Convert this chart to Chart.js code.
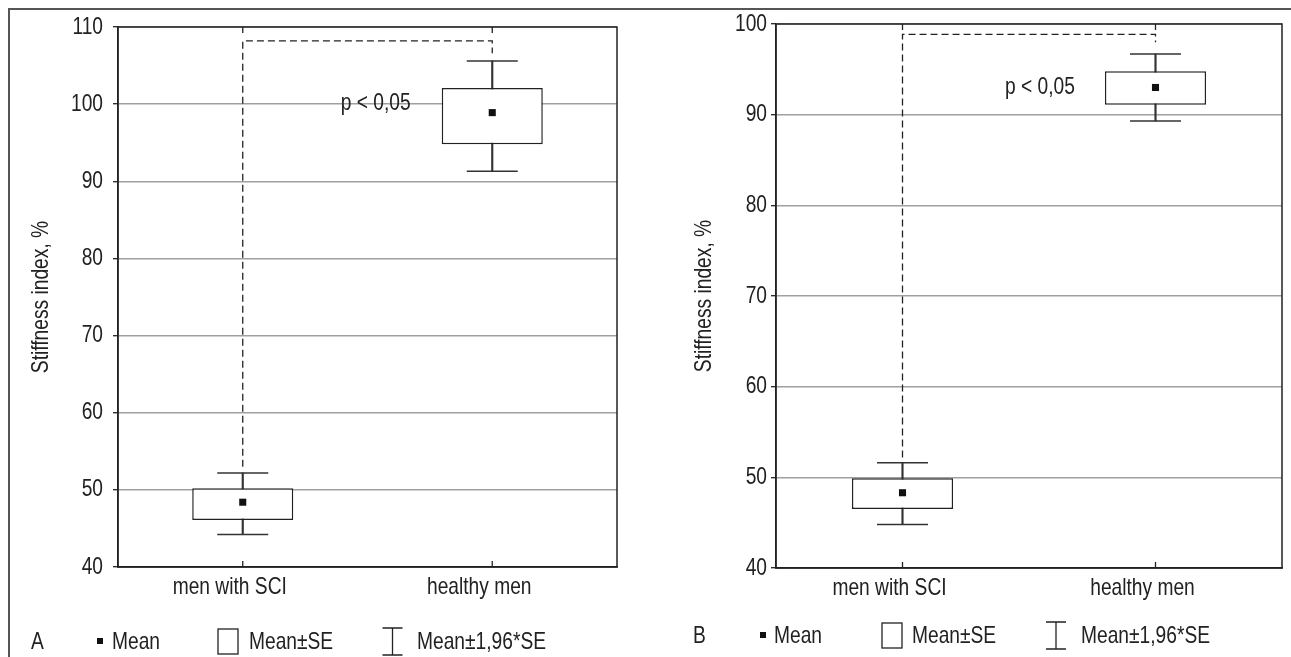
<!DOCTYPE html>
<html><head><meta charset="utf-8">
<script src="https://cdn.jsdelivr.net/npm/chart.js@4.4.1/dist/chart.umd.min.js"></script>
<style>
html,body{margin:0;padding:0;background:#fff;width:1291px;height:657px;overflow:hidden}
#frame{position:absolute;left:8px;top:8px;width:1283px;height:649px;border-top:2px solid #555;border-left:2px solid #555;box-sizing:border-box}
#wa{position:absolute;left:0;top:0;width:640px;height:657px}
#wb{position:absolute;left:640px;top:0;width:651px;height:657px}
canvas{display:block}
</style></head><body>
<div id="frame"></div>
<div id="wa"><canvas id="ca" width="640" height="657"></canvas></div>
<div id="wb"><canvas id="cb" width="651" height="657"></canvas></div>
<script>
const FONT = "'Liberation Sans', Arial, sans-serif";
const FS = 24;
const TXT = '#222';
const NARROW = 0.8;   // horizontal condensing of text (Arial Narrow look)

const categories = ['men with SCI', 'healthy men'];

// Panel A
const yTicksA = [40, 50, 60, 70, 80, 90, 100, 110];
const meanA   = [48.4, 98.9];
const seLowA  = [46.1, 94.8];
const seHighA = [50.2, 102.1];
const ciLowA  = [44.2, 91.3];
const ciHighA = [52.2, 105.6];
const bracketA = [53.0, 108.2, 106.6];   // SCI end, top, healthy end

// Panel B
const yTicksB = [40, 50, 60, 70, 80, 90, 100];
const meanB   = [48.3, 93.0];
const seLowB  = [46.5, 91.1];
const seHighB = [49.9, 94.8];
const ciLowB  = [44.8, 89.3];
const ciHighB = [51.6, 96.7];
const bracketB = [52.2, 98.85, 98.0];

const pText = 'p < 0,05';
const yTitle = 'Stiffness index, %';
const legendLabels = ['Mean', 'Mean±SE', 'Mean±1,96*SE'];
const panelLetters = ['A', 'B'];

function condense(canvas, k) {
  const ctx = canvas.getContext('2d');
  const ft = ctx.fillText.bind(ctx), mt = ctx.measureText.bind(ctx);
  ctx.fillText = function (t, x, y) {
    ctx.save(); ctx.translate(x, y); ctx.scale(k, 1); ft(t, 0, 0); ctx.restore();
  };
  ctx.measureText = function (t) {
    const m = mt(t);
    return { width: m.width * k,
      actualBoundingBoxAscent: m.actualBoundingBoxAscent,
      actualBoundingBoxDescent: m.actualBoundingBoxDescent,
      actualBoundingBoxLeft: m.actualBoundingBoxLeft * k,
      actualBoundingBoxRight: m.actualBoundingBoxRight * k };
  };
}

const decor = {
  id: 'decor',
  afterDatasetsDraw(chart, args, o) {
    const ctx = chart.ctx;
    const ys = chart.scales.y;
    const boxEl = chart.getDatasetMeta(1).data[1];
    const xr = boxEl.x - boxEl.width / 2 - o.pGap;
    ctx.save();
    ctx.font = `${FS}px ${FONT}`;
    ctx.fillStyle = TXT;
    ctx.textAlign = 'right';
    ctx.textBaseline = 'middle';
    ctx.fillText(pText, xr, ys.getPixelForValue(o.pValue));
    ctx.restore();
  },
  afterDraw(chart, args, o) {
    const ctx = chart.ctx;
    const a = chart.chartArea;
    const xs = chart.scales.x;
    ctx.save();
    ctx.strokeStyle = '#222';
    ctx.lineWidth = 1.5;
    ctx.strokeRect(a.left, a.top, a.right - a.left, a.bottom - a.top);
    ctx.lineWidth = 1.3;
    for (let i = 0; i < categories.length; i++) {
      const x = xs.getPixelForTick(i);
      ctx.beginPath();
      ctx.moveTo(x, a.bottom); ctx.lineTo(x, a.bottom - 6);
      ctx.moveTo(x, a.top); ctx.lineTo(x, a.top + 6);
      ctx.stroke();
    }
    // legend
    const L = o.legend;
    const by = L.baseline;
    ctx.font = `${FS}px ${FONT}`;
    ctx.fillStyle = TXT;
    ctx.textAlign = 'left';
    ctx.textBaseline = 'alphabetic';
    ctx.fillText(L.letter, L.letterX, by);
    ctx.fillStyle = '#111';
    ctx.fillRect(L.sqX - 3, by - 11, 6, 6);
    ctx.fillStyle = TXT;
    ctx.fillText(legendLabels[0], L.t1, by);
    ctx.strokeStyle = '#222';
    ctx.lineWidth = 1.3;
    ctx.strokeRect(L.boxX, by - 20, 20, 25);
    ctx.fillText(legendLabels[1], L.t2, by);
    ctx.beginPath();
    const ix = L.ibX;
    ctx.moveTo(ix - 10, by - 21); ctx.lineTo(ix + 10, by - 21);
    ctx.moveTo(ix, by - 21); ctx.lineTo(ix, by + 6);
    ctx.moveTo(ix - 10, by + 6); ctx.lineTo(ix + 10, by + 6);
    ctx.stroke();
    ctx.fillText(legendLabels[2], L.t3, by);
    ctx.restore();
  }
};

function makeChart(id, d) {
  const canvas = document.getElementById(id);
  condense(canvas, NARROW);
  const pairs = (lo, hi) => lo.map((v, i) => [v, hi[i]]);
  const br = d.bracket;
  return new Chart(canvas, {
    type: 'bar',
    data: {
      labels: categories,
      datasets: [
        { type: 'bar', data: pairs(d.ciLow, d.ciHigh), backgroundColor: '#333', barThickness: 1.5,
          grouped: false, order: 6, borderWidth: 0 },
        { type: 'bar', data: pairs(d.seLow, d.seHigh), backgroundColor: '#fff', borderColor: '#222',
          borderWidth: 1.5, borderSkipped: false, grouped: false, order: 5,
          categoryPercentage: 1, barPercentage: d.boxPct },
        { type: 'line', data: d.ciHigh, showLine: false, pointStyle: 'line', pointRadius: 25.5,
          pointBorderColor: '#333', pointBorderWidth: 1.5, order: 4 },
        { type: 'line', data: d.ciLow, showLine: false, pointStyle: 'line', pointRadius: 25.5,
          pointBorderColor: '#333', pointBorderWidth: 1.5, order: 3 },
        { type: 'line', data: d.mean, showLine: false, pointStyle: 'rect', pointRadius: 5,
          pointBackgroundColor: '#111', pointBorderWidth: 0, order: 2 },
        { type: 'line', data: [
            { x: categories[0], y: br[0] }, { x: categories[0], y: br[1] },
            { x: categories[1], y: br[1] }, { x: categories[1], y: br[2] } ],
          borderColor: '#222', borderWidth: 1.3, borderDash: [7, 4], pointRadius: 0,
          tension: 0, fill: false, order: 1 }
      ]
    },
    options: {
      responsive: false, animation: false, events: [], devicePixelRatio: 1,
      layout: { padding: d.pad, autoPadding: false },
      plugins: { legend: { display: false }, tooltip: { enabled: false }, decor: d.decor },
      scales: {
        x: {
          type: 'category', offset: true,
          grid: { display: true, drawOnChartArea: false, drawTicks: false },
          border: { display: true, color: '#222', width: 1.5 },
          ticks: { font: { family: FONT, size: FS }, color: TXT, padding: 6, labelOffset: -13,
                   maxRotation: 0, autoSkip: false },
          afterFit: s => { s.height = 40; s.paddingLeft = 0; s.paddingRight = 0; }
        },
        y: {
          min: d.yTicks[0], max: d.yTicks[d.yTicks.length - 1],
          afterBuildTicks: s => { s.ticks = d.yTicks.map(v => ({ value: v })); },
          grid: { color: '#a0a0a0', lineWidth: 1.4, tickLength: 5, tickColor: '#222', tickWidth: 1.3 },
          border: { display: true, color: '#222', width: 1.5 },
          ticks: { font: { family: FONT, size: FS }, color: TXT, padding: d.tickPad },
          title: { display: true, text: yTitle, font: { family: FONT, size: FS }, color: TXT,
                   padding: { top: d.titleTop, bottom: 0 } },
          afterFit: s => { s.width = d.axisW; s.paddingTop = 0; s.paddingBottom = 0; }
        }
      }
    },
    plugins: [decor]
  });
}

makeChart('ca', {
  yTicks: yTicksA, mean: meanA, seLow: seLowA, seHigh: seHighA, ciLow: ciLowA, ciHigh: ciHighA,
  bracket: bracketA, boxPct: 0.405,
  pad: { left: 0, right: 23, top: 27, bottom: 50 },
  axisW: 118, tickPad: 10, titleTop: 27,
  decor: { pValue: 100.1, pGap: 31,
    legend: { letter: panelLetters[0], letterX: 31, baseline: 649, sqX: 100, t1: 112, boxX: 218, t2: 249, ibX: 392.5, t3: 417 } }
});

makeChart('cb', {
  yTicks: yTicksB, mean: meanB, seLow: seLowB, seHigh: seHighB, ciLow: ciLowB, ciHigh: ciHighB,
  bracket: bracketB, boxPct: 0.40,
  pad: { left: 0, right: 9, top: 24, bottom: 49 },
  axisW: 136, tickPad: 4, titleTop: 50,
  decor: { pValue: 93.0, pGap: 30,
    legend: { letter: panelLetters[1], letterX: 53, baseline: 643, sqX: 123, t1: 134, boxX: 242, t2: 272, ibX: 416, t3: 441 } }
});
</script></body></html>
